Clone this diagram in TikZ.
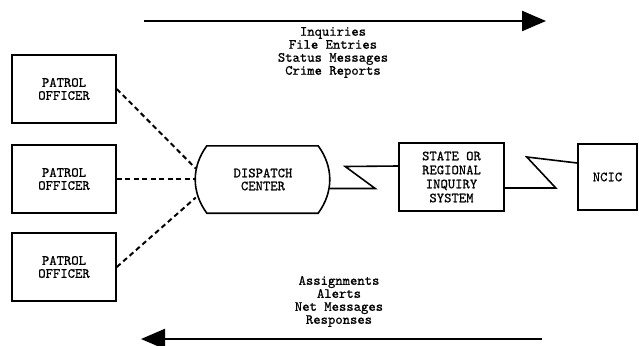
\documentclass[tikz,border=0pt]{standalone}
\usepackage{fontspec}
\newfontfamily\typer{lmmono10-regular.otf}[FakeBold=0.7]
\usetikzlibrary{arrows.meta,positioning,calc}

\tikzset{
  unit/.style={draw,line width=1.6pt,minimum width=104pt,minimum height=68pt,
    align=center,font=\typer\fontsize{14}{13}\selectfont},
  hub/.style={minimum width=134pt,minimum height=67pt,align=center,
    font=\typer\fontsize{14}{13}\selectfont},
  radio/.style={line width=2pt,dash pattern=on 5pt off 3.5pt},
  wire/.style={line width=1.6pt},
  flow/.style={line width=2.2pt,-{Triangle[length=24pt,width=20pt]}},
  msg/.style={align=center,font=\typer\fontsize{14}{13}\selectfont}
}

\begin{document}
\begin{tikzpicture}[x=1pt,y=-1pt]
  \useasboundingbox (0,0) rectangle (639,345);

  % patrol units on the left
  \foreach \i/\y in {1/89,2/179,3/267}
    \node[unit] (po\i) at (64,\y) {PATROL\\OFFICER};

  % dispatch center with bulging sides
  \node[hub] (disp) at (263,179.5) {DISPATCH\\CENTER};
  \draw[wire] ([xshift=11pt]disp.north west) -- ([xshift=-12pt]disp.north east)
    to[bend left=36] ([xshift=-12pt]disp.south east)
    -- ([xshift=11pt]disp.south west) to[bend left=36] cycle;

  \node[unit,minimum width=105pt,font=\typer\fontsize{14}{14}\selectfont]
    (state) at (451.5,177) {STATE OR\\REGIONAL\\INQUIRY\\SYSTEM};
  \node[unit,minimum width=59pt,minimum height=66pt] (ncic) at (607.5,177) {NCIC};

  % radio links to the cars
  \draw[radio] (po1.east) -- ([yshift=11pt]disp.west);
  \draw[radio] (po2.east) -- (po2.east -| disp.west);
  \draw[radio] (po3.east) -- ([yshift=-18pt]disp.west);

  % data lines
  \draw[wire] ([yshift=-9pt]disp.east) -- ++(45,0) -- ++(-30,-22)
    -- ([yshift=11pt]state.west);
  \draw[wire] ([yshift=-11pt]state.east) -- ++(51,0) -- ++(-29,-31)
    -- ([yshift=14pt]ncic.west);

  % message traffic
  \coordinate (up-from) at (144,21);
  \coordinate (up-to) at (546,21);
  \draw[flow] (up-from) -- (up-to);
  \node[msg] (upmsg) at (333,52.5) {Inquiries\\File Entries\\Status Messages\\Crime Reports};

  \coordinate (down-from) at (542,339);
  \coordinate (down-to) at (141,339);
  \draw[flow] (down-from) -- (down-to);
  \node[msg] (downmsg) at (339,301.5) {Assignments\\Alerts\\Net Messages\\Responses};
\end{tikzpicture}
\end{document}
